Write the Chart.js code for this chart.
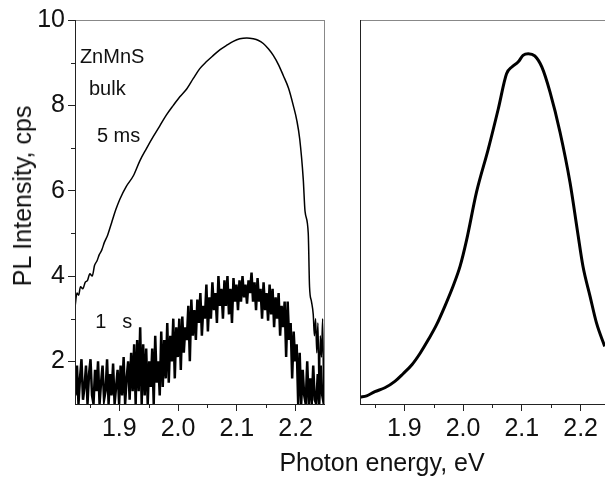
<!DOCTYPE html>
<html>
<head>
<meta charset="utf-8">
<script src="https://cdn.jsdelivr.net/npm/chart.js@4.4.1/dist/chart.umd.min.js"></script>
<style>
    body { margin: 0; background: #fff; width: 605px; height: 477px; overflow: hidden; position: relative; font-family: "Liberation Sans", Arial, sans-serif; color: #111; }
    #left { position: absolute; left: 0; top: 0; }
    #right { position: absolute; left: 340px; top: 0; }
    #xtitle { position: absolute; left: 0; width: 764px; top: 449px; font-size: 25px; line-height: 26px; text-align: center; }
    #ytitle { position: absolute; left: 22px; top: 196px; transform: translate(-50%, -50%) rotate(-90deg); white-space: nowrap; font-size: 25px; line-height: 26px; }
</style>
</head>
<body>
<canvas id="left" width="340" height="477"></canvas>
<canvas id="right" width="265" height="477"></canvas>
<div id="xtitle">Photon energy, eV</div>
<div id="ytitle">PL Intensity, cps</div>
<script>
// tick values
const xMajor = [1.9, 2.0, 2.1, 2.2];
const xMinor = [1.85, 1.95, 2.05, 2.15];
const yMajor = [2, 4, 6, 8, 10];
const yMinor = [3, 5, 7, 9];

// 5 ms gate, left panel
const e5ms = [1.825, 1.828, 1.831, 1.834, 1.838, 1.842, 1.846, 1.850, 1.854, 1.858,
    1.862, 1.866, 1.870, 1.875, 1.880, 1.887, 1.894, 1.901, 1.912, 1.924,
    1.935, 1.946, 1.958, 1.969, 1.980, 1.992, 2.003, 2.015, 2.026, 2.037,
    2.048, 2.060, 2.071, 2.083, 2.094, 2.105, 2.117, 2.128, 2.137, 2.145,
    2.154, 2.162, 2.171, 2.179, 2.188, 2.196, 2.202, 2.207, 2.213, 2.216,
    2.2215, 2.2237, 2.227, 2.230, 2.232, 2.234, 2.236, 2.238, 2.240, 2.242,
    2.244, 2.246, 2.248, 2.250];
const i5ms = [3.3, 3.6, 3.55, 3.75, 3.7, 3.85, 3.9, 4.05, 4.0, 4.25,
    4.35, 4.5, 4.6, 4.8, 4.95, 5.25, 5.55, 5.8, 6.1, 6.35,
    6.7, 6.98, 7.27, 7.52, 7.77, 8.0, 8.2, 8.39, 8.63, 8.86,
    9.02, 9.17, 9.3, 9.41, 9.5, 9.56, 9.58, 9.56, 9.52, 9.45,
    9.32, 9.17, 8.95, 8.7, 8.4, 8.0, 7.65, 7.21, 6.27, 5.52,
    5.0, 3.75, 3.4, 3.1, 2.6, 3.0, 2.2, 2.9, 1.2, 2.6,
    2.1, 3.0, 1.0, 2.5];

// 1 s gate, left panel (noisy), sampled every 0.00256 eV from 1.8255
const e1sStart = 1.8255;
const e1sStep = 0.00256;
const i1s = [
    1.2, 1.9, 1.0, 1.6, 2.05, 1.1, 1.4, 1.9, 1.0, 1.7,
    2.05, 1.2, 1.0, 1.8, 1.3, 2.0, 1.0, 1.5, 1.9, 1.1,
    1.3, 2.05, 1.0, 1.7, 1.2, 1.95, 1.0, 1.4, 1.8, 1.0,
    1.9, 1.2, 2.1, 1.0, 1.6, 2.0, 1.1, 2.2, 1.3, 2.4,
    1.0, 2.5, 1.3, 2.8, 1.0, 2.4, 1.2, 2.3, 1.0, 2.0,
    1.4, 2.3, 1.0, 2.6, 1.5, 2.0, 1.2, 2.7, 1.4, 2.5,
    1.6, 2.9, 1.5, 2.6, 2.0, 3.0, 1.6, 2.8, 2.1, 3.0,
    1.8, 3.05, 2.2, 2.8, 2.5, 3.3, 2.0, 3.45, 2.6, 3.2,
    2.5, 3.45, 2.9, 3.6, 2.6, 3.3, 3.0, 3.8, 2.7, 3.5,
    3.0, 3.85, 3.2, 3.6, 2.9, 4.0, 3.3, 3.7, 3.0, 3.9,
    3.3, 4.0, 3.1, 3.7, 2.9, 3.95, 3.4, 3.8, 3.2, 3.9,
    3.4, 4.0, 3.5, 3.8, 3.35, 3.9, 3.6, 4.08, 3.4, 3.85,
    3.2, 3.95, 3.4, 3.7, 3.0, 3.85, 3.2, 3.6, 2.95, 3.8,
    3.1, 3.7, 2.8, 3.5, 3.0, 3.6, 2.6, 3.3, 2.8, 3.4,
    2.1, 3.4, 2.5, 2.9, 1.6, 2.7, 2.0, 2.4, 1.0, 2.2,
    1.0, 1.8, 1.2, 1.0, 2.0, 1.0, 1.6, 1.0, 1.9, 1.1,
    1.0, 1.7, 1.0, 1.9, 1.2, 1.0, 1.6];

// right panel
const eRight = [1.825, 1.836, 1.850, 1.867, 1.884, 1.898, 1.913, 1.927, 1.941, 1.955,
    1.969, 1.983, 1.995, 2.006, 2.023, 2.043, 2.060, 2.074, 2.083, 2.094,
    2.102, 2.111, 2.122, 2.134, 2.148, 2.165, 2.182, 2.195, 2.204, 2.216,
    2.227, 2.241];
const iRight = [1.16, 1.19, 1.29, 1.38, 1.53, 1.71, 1.92, 2.19, 2.51, 2.86,
    3.29, 3.76, 4.23, 4.84, 5.97, 6.98, 7.92, 8.74, 8.9, 9.02,
    9.17, 9.21, 9.16, 8.9, 8.31, 7.37, 6.19, 5.02, 4.23, 3.53,
    2.9, 2.35];

const notesLeft = [
    { text: 'ZnMnS', x: 1.833, y: 9.13 },
    { text: 'bulk', x: 1.8485, y: 8.36 },
    { text: '5 ms', x: 1.862, y: 7.28 },
    { text: '1', x: 1.859, y: 2.9 },
    { text: 's', x: 1.905, y: 2.9 }
];

const pts = (xs, ys) => ys.map((v, i) => ({ x: xs[i], y: v }));
const e1s = i1s.map((_, i) => e1sStart + i * e1sStep);

const framePlugin = {
    id: 'frame',
    afterDraw(chart, args, opts) {
        const { ctx, chartArea: a, scales: { x, y } } = chart;
        ctx.save();
        ctx.lineWidth = 1;
        ctx.strokeStyle = '#888';
        ctx.beginPath();
        ctx.moveTo(a.left, a.top + 0.5);
        ctx.lineTo(a.right, a.top + 0.5);
        if (opts.rightEdge) {
            ctx.moveTo(a.right - 0.5, a.top);
            ctx.lineTo(a.right - 0.5, a.bottom);
        }
        ctx.stroke();

        ctx.strokeStyle = '#222';
        ctx.beginPath();
        ctx.moveTo(a.left + 0.5, a.top);
        ctx.lineTo(a.left + 0.5, a.bottom + 1);
        ctx.moveTo(a.left, a.bottom + 0.5);
        ctx.lineTo(a.right, a.bottom + 0.5);
        xMinor.forEach(v => {
            const px = Math.round(x.getPixelForValue(v)) + 0.5;
            ctx.moveTo(px, a.bottom);
            ctx.lineTo(px, a.bottom + 4);
        });
        if (opts.yMinor) {
            yMinor.forEach(v => {
                const py = Math.round(y.getPixelForValue(v)) + 0.5;
                ctx.moveTo(a.left, py);
                ctx.lineTo(a.left - 4, py);
            });
        }
        ctx.stroke();

        if (opts.notes) {
            ctx.fillStyle = '#111';
            ctx.font = '20px "Liberation Sans", Arial, sans-serif';
            ctx.textBaseline = 'middle';
            ctx.textAlign = 'left';
            opts.notes.forEach(n => {
                ctx.fillText(n.text, x.getPixelForValue(n.x), y.getPixelForValue(n.y));
            });
        }
        ctx.restore();
    }
};

Chart.defaults.font.family = '"Liberation Sans", Arial, sans-serif';
Chart.defaults.color = '#111';

function xScale(min, max) {
    return {
        type: 'linear',
        min: min,
        max: max,
        afterBuildTicks: s => { s.ticks = xMajor.map(v => ({ value: v })); },
        afterFit: s => { s.height = 73; },
        ticks: { font: { size: 25 }, padding: 3, maxRotation: 0, callback: v => v.toFixed(1) },
        grid: { drawOnChartArea: false, tickLength: 7, tickColor: '#222' },
        border: { display: false }
    };
}

new Chart(document.getElementById('left'), {
    type: 'line',
    data: {
        datasets: [
            { data: pts(e5ms, i5ms), borderColor: '#000', borderWidth: 1.5, pointRadius: 0, cubicInterpolationMode: 'monotone' },
            { data: pts(e1s, i1s), borderColor: '#000', borderWidth: 2.5, pointRadius: 0, tension: 0 }
        ]
    },
    options: {
        responsive: false,
        animation: false,
        layout: { padding: { left: 0, right: 15, top: 20, bottom: 0 } },
        plugins: {
            legend: { display: false },
            tooltip: { enabled: false },
            frame: { rightEdge: true, yMinor: true, notes: notesLeft }
        },
        scales: {
            x: xScale(1.8247, 2.25),
            y: {
                type: 'linear',
                min: 1,
                max: 10,
                afterBuildTicks: s => { s.ticks = yMajor.map(v => ({ value: v })); },
                afterFit: s => { s.width = 75; },
                ticks: { font: { size: 25 }, padding: 3 },
                grid: { drawOnChartArea: false, tickLength: 7, tickColor: '#222' },
                border: { display: false }
            }
        }
    },
    plugins: [framePlugin]
});

new Chart(document.getElementById('right'), {
    type: 'line',
    data: {
        datasets: [
            { data: pts(eRight, iRight), borderColor: '#000', borderWidth: 3, pointRadius: 0, cubicInterpolationMode: 'monotone' }
        ]
    },
    options: {
        responsive: false,
        animation: false,
        layout: { padding: { left: 20, right: 0, top: 20, bottom: 0 } },
        plugins: {
            legend: { display: false },
            tooltip: { enabled: false },
            frame: { rightEdge: false, yMinor: false }
        },
        scales: {
            x: xScale(1.8247, 2.2415),
            y: { type: 'linear', min: 1, max: 10, display: false }
        }
    },
    plugins: [framePlugin]
});
</script>
</body>
</html>
